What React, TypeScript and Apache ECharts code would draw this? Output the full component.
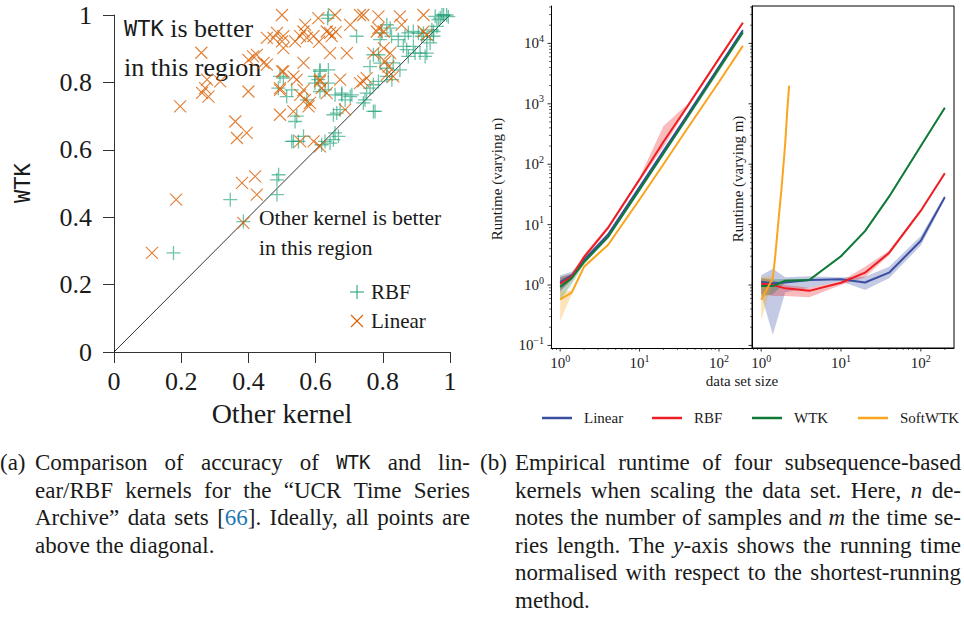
import React, { useEffect, useRef } from 'react';
import * as echarts from 'echarts';

const SERIF = "'Liberation Serif', 'Times New Roman', serif";
const MONO = "'DejaVu Sans Mono', monospace";
const INK = '#1a1a1a';
const BLUE_LINK = '#1f77b4';

// ---------- (a) accuracy scatter ----------
const rbfPoints: [number, number][] = [
  [0.177, 0.294], [0.346, 0.452], [0.385, 0.387], [0.485, 0.511], [0.49, 0.526], [0.485, 0.467],
  [0.529, 0.625], [0.549, 0.625], [0.564, 0.64], [0.539, 0.684], [0.544, 0.7], [0.534, 0.625],
  [0.494, 0.818], [0.489, 0.783], [0.514, 0.758], [0.529, 0.778], [0.574, 0.748], [0.598, 0.818],
  [0.613, 0.837], [0.638, 0.837], [0.598, 0.798], [0.613, 0.773], [0.628, 0.778], [0.638, 0.798],
  [0.658, 0.763], [0.678, 0.768], [0.703, 0.758], [0.653, 0.704], [0.673, 0.719], [0.658, 0.65],
  [0.653, 0.63], [0.628, 0.625], [0.618, 0.615], [0.643, 0.62], [0.668, 0.64], [0.663, 0.709],
  [0.688, 0.748], [0.708, 0.763], [0.678, 0.763], [0.613, 0.833], [0.608, 0.808], [0.504, 0.813],
  [0.638, 1.0], [0.636, 0.99], [0.722, 0.937], [0.742, 0.739], [0.772, 0.714], [0.752, 0.768],
  [0.747, 0.748], [0.777, 0.714], [0.762, 0.783], [0.772, 0.793], [0.787, 0.803], [0.762, 0.847],
  [0.772, 0.882], [0.787, 0.882], [0.792, 0.857], [0.812, 0.818], [0.827, 0.808], [0.812, 0.842],
  [0.831, 0.858], [0.851, 0.837], [0.812, 0.971], [0.822, 0.961], [0.826, 0.937], [0.846, 0.927],
  [0.866, 0.937], [0.876, 0.947], [0.891, 0.951], [0.906, 0.946], [0.891, 0.907], [0.861, 0.907],
  [0.871, 0.897], [0.876, 0.877], [0.896, 0.887], [0.911, 0.887], [0.931, 0.887], [0.926, 0.877],
  [0.951, 0.937], [0.931, 0.927], [0.941, 0.917], [0.961, 0.966], [0.971, 0.991], [0.981, 1.0],
  [0.99, 1.0], [0.995, 0.995], [0.976, 1.0], [0.966, 0.986], [0.956, 0.996], [0.951, 0.951],
  [0.946, 0.956], [0.921, 0.946], [0.916, 0.937], [0.797, 0.947], [0.792, 0.927],
];

const linearPoints: [number, number][] = [
  [0.113, 0.294], [0.185, 0.452], [0.197, 0.729], [0.26, 0.888], [0.277, 0.808], [0.271, 0.783],
  [0.262, 0.769], [0.281, 0.758], [0.316, 0.803], [0.4, 0.773], [0.4, 0.867], [0.414, 0.877],
  [0.455, 0.853], [0.361, 0.684], [0.366, 0.635], [0.395, 0.65], [0.5, 1.0], [0.475, 0.932],
  [0.5, 0.922], [0.504, 0.902], [0.485, 0.947], [0.5, 0.833], [0.494, 0.778], [0.494, 0.704],
  [0.381, 0.502], [0.42, 0.521], [0.425, 0.467], [0.385, 0.383], [0.608, 0.991], [0.658, 1.0],
  [0.732, 1.0], [0.742, 1.0], [0.787, 0.996], [0.851, 0.996], [0.856, 0.971], [0.921, 1.0],
  [0.703, 0.971], [0.787, 0.961], [0.569, 0.971], [0.564, 0.951], [0.554, 0.937], [0.539, 0.922],
  [0.574, 0.932], [0.594, 0.937], [0.633, 0.951], [0.648, 0.937], [0.504, 0.937], [0.643, 0.887],
  [0.693, 0.887], [0.803, 0.951], [0.921, 0.951], [0.931, 0.941], [0.803, 0.902], [0.772, 0.887],
  [0.822, 0.887], [0.564, 0.858], [0.807, 0.862], [0.817, 0.847], [0.831, 0.818], [0.504, 0.833],
  [0.544, 0.808], [0.613, 0.808], [0.673, 0.808], [0.752, 0.813], [0.742, 0.803], [0.554, 0.763],
  [0.569, 0.748], [0.583, 0.739], [0.618, 0.783], [0.633, 0.768], [0.494, 0.783], [0.534, 0.714],
  [0.688, 0.719], [0.554, 0.625], [0.594, 0.625], [0.613, 0.61], [0.732, 0.798], [0.812, 0.823],
  [0.782, 0.951], [0.445, 0.858], [0.425, 0.882], [0.455, 0.932], [0.534, 0.818], [0.579, 0.729],
  [0.613, 0.803], [0.564, 0.778], [0.643, 0.947], [0.61, 0.92], [0.66, 0.95],
];

const diagonal: [number, number][] = [[0, 0], [1, 1]];

// ---------- (b) runtime ----------
const sizes = [1, 1.4, 2, 4, 10, 20, 40, 100, 200];
const softSizesM = [1, 1.4, 1.5, 1.65, 1.8, 2.0, 2.12, 2.24];
const kernelNames = ['Linear', 'RBF', 'WTK', 'SoftWTK'];
const kernelColors = ['#3a4ea2', '#ee1d23', '#0f7a37', '#fba41d'];

// varying n
const nLinear = [1.12, 1.45, 2.6, 6.8, 42, 165, 650, 4100, 16500];
const nLinearLo = [0.8, 1.25, 2.4, 6.3, 39, 152, 610, 3850, 15500];
const nLinearHi = [1.45, 1.65, 2.8, 7.3, 45, 178, 690, 4350, 17500];
const nRBF = [1.05, 1.38, 2.9, 8.8, 56, 235, 900, 5600, 22000];
const nRBFLo = [0.78, 1.2, 2.6, 8.2, 52, 190, 840, 5300, 21000];
const nRBFHi = [1.35, 1.55, 3.2, 9.5, 60, 430, 980, 5900, 23000];
const nWTK = [0.93, 1.3, 2.4, 6.2, 38, 150, 600, 3800, 15200];
const nWTKLo = [0.55, 1.05, 2.2, 5.8, 35, 138, 550, 3400, 14000];
const nWTKHi = [1.35, 1.5, 2.6, 6.6, 41, 162, 650, 4300, 17000];
const nSoft = [0.58, 0.75, 2.0, 4.6, 26, 100, 390, 2300, 9100];
const nSoftLo = [0.25, 0.7, 1.9, 4.4, 25, 97, 378, 2230, 8850];
const nSoftHi = [0.78, 0.8, 2.1, 4.8, 27, 103, 402, 2370, 9350];

// varying m
const mLinear = [1.13, 1.07, 1.1, 1.21, 1.24, 1.1, 1.6, 5.4, 28.5];
const mLinearLo = [0.7, 0.15, 0.75, 0.9, 1.15, 0.83, 1.29, 4.5, 26];
const mLinearHi = [1.45, 1.85, 1.35, 1.4, 1.35, 1.37, 2.0, 6.5, 31];
const mRBF = [1.05, 1.0, 0.88, 0.8, 1.09, 1.6, 3.4, 17, 71];
const mRBFLo = [0.72, 0.66, 0.66, 0.63, 1.0, 1.35, 3.1, 16, 68];
const mRBFHi = [1.3, 1.2, 1.0, 0.9, 1.15, 2.0, 3.7, 18, 74];
const mWTK = [0.96, 0.96, 1.18, 1.21, 3.0, 7.8, 29, 200, 860];
const mWTKLo = [0.65, 0.7, 1.1, 1.15, 2.85, 7.4, 27.5, 190, 820];
const mWTKHi = [1.3, 1.25, 1.26, 1.27, 3.15, 8.2, 30.5, 210, 900];
const mSoft = [0.57, 1.3, 3, 12, 40, 220, 750, 2000];
const mSoftLo = [0.26, 1.2, 2.8, 11.5, 38, 210, 720, 1950];
const mSoftHi = [1.35, 1.4, 3.2, 12.5, 42, 230, 780, 2050];

// axis ranges
const XMIN = Math.pow(10, -0.115);
const XMAX = Math.pow(10, 2.416);
const YMIN = 0.0906;
const YMAX = 41600;
const majorX = [1, 10, 100];
const majorY = [0.1, 1, 10, 100, 1000, 10000];

// captions
const capA = [
  'Comparison of accuracy of {m:WTK} and lin-',
  'ear/RBF kernels for the \u201cUCR Time Series',
  'Archive\u201d data sets [{b:66}]. Ideally, all points are',
  'above the diagonal.',
];
const capB = [
  'Empirical runtime of four subsequence-based',
  'kernels when scaling the data set. Here, {i:n} de-',
  'notes the number of samples and {i:m} the time se-',
  'ries length. The {i:y}-axis shows the running time',
  'normalised with respect to the shortest-running',
  'method.',
];

const PLUS = 'path://M5,0L5,10M0,5L10,5';
const CROSS = 'path://M0,0L10,10M10,0L0,10';

let ctx2d: CanvasRenderingContext2D | null = null;
function measure(t: string, font: string) {
  if (!ctx2d) ctx2d = document.createElement('canvas').getContext('2d');
  ctx2d!.font = font;
  return ctx2d!.measureText(t).width;
}

function fontFor(k: string, size: number) {
  if (k === 'm') return `${Math.round(size * 0.84)}px ${MONO}`;
  if (k === 'i') return `italic ${size}px ${SERIF}`;
  return `${size}px ${SERIF}`;
}

function textEl(x: number, y: number, text: string, font: string, fill = INK, align = 'left', rotation = 0) {
  return {
    type: 'text', x, y, rotation, silent: true, z: 1,
    style: { text, font, fill, textAlign: align, align, textVerticalAlign: 'middle', verticalAlign: 'middle' },
  };
}

type Tok = { t: string; f: string; c: string };
function parseWords(s: string, size: number): Tok[][] {
  return s.split(' ').filter(Boolean).map((w) => {
    const toks: Tok[] = [];
    const re = /\{(\w):([^}]*)\}|[^{]+/g;
    let m: RegExpExecArray | null;
    while ((m = re.exec(w))) {
      if (m[1]) toks.push({ t: m[2], f: fontFor(m[1], size), c: m[1] === 'b' ? BLUE_LINK : INK });
      else toks.push({ t: m[0], f: fontFor('r', size), c: INK });
    }
    return toks;
  });
}

function paragraph(lines: string[], x0: number, width: number, ys: number[], size: number) {
  const els: any[] = [];
  const sp = measure(' ', fontFor('r', size));
  lines.forEach((line, li) => {
    const words = parseWords(line, size);
    const widths = words.map((w) => w.reduce((a, t) => a + measure(t.t, t.f), 0));
    const total = widths.reduce((a, b) => a + b, 0);
    const last = li === lines.length - 1;
    const gap = last || words.length < 2 ? sp : Math.max(sp * 0.6, (width - total) / (words.length - 1));
    let x = x0;
    words.forEach((w, wi) => {
      let xx = x;
      w.forEach((t) => {
        els.push(textEl(xx, ys[li], t.t, t.f, t.c));
        xx += measure(t.t, t.f);
      });
      x += widths[wi] + gap;
    });
  });
  return els;
}

function runLine(x: number, y: number, toks: [string, string][]) {
  const els: any[] = [];
  let xx = x;
  toks.forEach(([t, f]) => {
    els.push(textEl(xx, y, t, f));
    xx += measure(t, f);
  });
  return els;
}

function minorList(lo: number, hi: number) {
  const out: number[] = [];
  for (let k = -2; k <= 5; k++) {
    for (let m = 2; m <= 9; m++) {
      const v = m * Math.pow(10, k);
      if (v >= lo && v <= hi) out.push(v);
    }
  }
  return out;
}

function tickSeries(idx: number, withY: boolean) {
  const minorX = minorList(XMIN, XMAX);
  const minorY = minorList(YMIN, YMAX);
  return {
    type: 'custom', xAxisIndex: idx, yAxisIndex: idx, silent: true, z: 10, clip: false,
    data: [[1, 1]],
    renderItem: (_p: any, api: any) => {
      const ch: any[] = [];
      const ln = (x1: number, y1: number, x2: number, y2: number, w: number) =>
        ch.push({ type: 'line', shape: { x1, y1, x2, y2 }, style: { stroke: '#000', lineWidth: w } });
      const corner = api.coord([XMIN, YMIN]);
      majorX.forEach((v) => { const px = api.coord([v, YMIN])[0]; ln(px, corner[1], px, corner[1] + 3.5, 0.8); });
      minorX.forEach((v) => { const px = api.coord([v, YMIN])[0]; ln(px, corner[1], px, corner[1] + 2, 0.6); });
      if (withY) {
        majorY.forEach((v) => { const py = api.coord([XMIN, v])[1]; ln(corner[0], py, corner[0] - 3.5, py, 0.8); });
        minorY.forEach((v) => { const py = api.coord([XMIN, v])[1]; ln(corner[0], py, corner[0] - 2, py, 0.6); });
      }
      return { type: 'group', children: ch };
    },
  };
}

function bandSeries(idx: number, xs: number[], lo: number[], hi: number[], color: string) {
  return {
    type: 'custom', xAxisIndex: idx, yAxisIndex: idx, silent: true, z: 1, clip: true,
    data: xs.map((x, i) => [x, lo[i], hi[i]]),
    encode: { x: 0, y: [1, 2] },
    renderItem: (p: any, api: any) => {
      if (p.dataIndex !== 0) return { type: 'group', children: [] };
      const up = xs.map((x, i) => api.coord([x, hi[i]]));
      const dn = xs.map((x, i) => api.coord([x, lo[i]])).reverse();
      return { type: 'polygon', shape: { points: up.concat(dn) }, style: { fill: color, opacity: 0.3 } };
    },
  };
}

function lineSeries(idx: number, xs: number[], ys: number[], color: string, name: string) {
  return {
    type: 'line', name, xAxisIndex: idx, yAxisIndex: idx, silent: true, z: 3,
    data: xs.map((x, i) => [x, ys[i]]),
    symbol: 'none', showSymbol: false,
    lineStyle: { color, width: 2 },
    itemStyle: { color },
  };
}

const logLabel = (v: number) => {
  const l = Math.log10(v);
  const e = Math.round(l);
  if (Math.abs(l - e) > 1e-6) return '';
  return `{b|10}{s|${e < 0 ? '\u2212' + -e : e}}`;
};
const logRich = {
  b: { fontFamily: SERIF, fontSize: 15, color: INK, lineHeight: 20 },
  s: { fontFamily: SERIF, fontSize: 10, color: INK, lineHeight: 12, verticalAlign: 'top' },
};

function logX(idx: number) {
  return {
    gridIndex: idx, type: 'log', logBase: 10, min: XMIN, max: XMAX,
    axisLine: { show: true, onZero: false, lineStyle: { color: '#000', width: 1 } },
    axisTick: { show: false }, minorTick: { show: false },
    splitLine: { show: false }, minorSplitLine: { show: false },
    axisLabel: { show: true, formatter: logLabel, rich: logRich, margin: 5, showMinLabel: true, showMaxLabel: true },
  };
}
function logY(idx: number, labels: boolean) {
  return {
    gridIndex: idx, type: 'log', logBase: 10, min: YMIN, max: YMAX,
    axisLine: { show: true, onZero: false, lineStyle: { color: '#000', width: 1 } },
    axisTick: { show: false }, minorTick: { show: false },
    splitLine: { show: false }, minorSplitLine: { show: false },
    axisLabel: { show: labels, formatter: logLabel, rich: logRich, margin: 7 },
  };
}

function buildOption() {
  const green = 'rgba(27,158,119,0.78)';
  const orange = '#d95f02';
  const serifF = (s: number) => `${s}px ${SERIF}`;

  const graphics: any[] = [];
  // scatter annotations
  graphics.push(...runLine(124, 28, [['WTK', `22px ${MONO}`], [' is better', serifF(26)]]));
  graphics.push(textEl(124, 67, 'in this region', serifF(26)));
  graphics.push(textEl(259, 218, 'Other kernel is better', serifF(21.5)));
  graphics.push(textEl(259, 248, 'in this region', serifF(21.5)));
  // scatter axis names
  graphics.push(textEl(282, 413, 'Other kernel', serifF(28), INK, 'center'));
  graphics.push(textEl(22, 183, 'WTK', `22px ${MONO}`, INK, 'center', Math.PI / 2));
  // scatter legend
  const lw = (x1: number, y1: number, x2: number, y2: number, stroke: string, w: number) => ({
    type: 'line', silent: true, shape: { x1, y1, x2, y2 }, style: { stroke, lineWidth: w },
  });
  graphics.push(lw(350, 292, 364, 292, green, 1.3), lw(357, 285, 357, 299, green, 1.3));
  graphics.push(lw(351, 315, 363, 327, orange, 1.1), lw(363, 315, 351, 327, orange, 1.1));
  graphics.push(textEl(371, 292, 'RBF', serifF(21)));
  graphics.push(textEl(371, 321, 'Linear', serifF(21)));
  // runtime axis names
  graphics.push(textEl(497, 179, 'Runtime (varying n)', serifF(15), INK, 'center', Math.PI / 2));
  graphics.push(textEl(738, 179, 'Runtime (varying m)', serifF(15), INK, 'center', Math.PI / 2));
  graphics.push(textEl(742, 381, 'data set size', serifF(15), INK, 'center'));
  // runtime legend
  const legX = [542, 652, 752, 858];
  kernelNames.forEach((nm, i) => {
    graphics.push(lw(legX[i], 418, legX[i] + 30, 418, kernelColors[i], 2.5));
    graphics.push(textEl(legX[i] + 42, 418, nm, serifF(15)));
  });
  // captions
  const capY = [462, 490, 517, 545, 572, 600];
  const CAP = 23;
  graphics.push(textEl(0, capY[0], '(a)', serifF(CAP)));
  graphics.push(textEl(480, capY[0], '(b)', serifF(CAP)));
  graphics.push(...paragraph(capA, 35, 435, capY, CAP));
  graphics.push(...paragraph(capB, 515, 446, capY, CAP));

  const nSets = [
    [nLinear, nLinearLo, nLinearHi], [nRBF, nRBFLo, nRBFHi], [nWTK, nWTKLo, nWTKHi], [nSoft, nSoftLo, nSoftHi],
  ];
  const mSets = [
    [mLinear, mLinearLo, mLinearHi], [mRBF, mRBFLo, mRBFHi], [mWTK, mWTKLo, mWTKHi], [mSoft, mSoftLo, mSoftHi],
  ];

  const series: any[] = [
    {
      type: 'line', xAxisIndex: 0, yAxisIndex: 0, data: diagonal, symbol: 'none', silent: true, z: 1,
      lineStyle: { color: '#000', width: 0.8 },
    },
    {
      type: 'scatter', name: 'RBF', xAxisIndex: 0, yAxisIndex: 0, data: rbfPoints, symbol: PLUS, symbolSize: 14,
      silent: true, z: 3, itemStyle: { color: 'rgba(0,0,0,0)', borderColor: green, borderWidth: 1.3 },
    },
    {
      type: 'scatter', name: 'Linear', xAxisIndex: 0, yAxisIndex: 0, data: linearPoints, symbol: CROSS, symbolSize: 12,
      silent: true, z: 4, itemStyle: { color: 'rgba(0,0,0,0)', borderColor: orange, borderWidth: 1.1 },
    },
  ];
  nSets.forEach((s, i) => series.push(bandSeries(1, sizes, s[1], s[2], kernelColors[i])));
  mSets.forEach((s, i) => series.push(bandSeries(2, i === 3 ? softSizesM : sizes, s[1], s[2], kernelColors[i])));
  nSets.forEach((s, i) => series.push(lineSeries(1, sizes, s[0], kernelColors[i], kernelNames[i])));
  mSets.forEach((s, i) => series.push(lineSeries(2, i === 3 ? softSizesM : sizes, s[0], kernelColors[i], kernelNames[i])));
  series.push(tickSeries(1, true));
  series.push(tickSeries(2, true));

  return {
    animation: false,
    backgroundColor: '#ffffff',
    grid: [
      { left: 114, top: 15, width: 336, height: 337, outerBoundsMode: 'none', containLabel: false },
      { left: 551, top: 6, width: 201, height: 342, outerBoundsMode: 'none', containLabel: false },
      {
        left: 752, top: 6, width: 202, height: 342, outerBoundsMode: 'none', containLabel: false,
        show: true, borderColor: '#000', borderWidth: 1, backgroundColor: 'rgba(0,0,0,0)',
      },
    ],
    xAxis: [
      {
        gridIndex: 0, type: 'value', min: 0, max: 1, interval: 0.2,
        axisLine: { show: true, onZero: false, lineStyle: { color: '#333', width: 1 } },
        axisTick: { show: true, length: 11, inside: false, lineStyle: { color: '#333', width: 1 } },
        axisLabel: { show: true, fontFamily: SERIF, fontSize: 26, color: INK, margin: 16 },
        splitLine: { show: false },
      },
      logX(1),
      logX(2),
    ],
    yAxis: [
      {
        gridIndex: 0, type: 'value', min: 0, max: 1, interval: 0.2,
        axisLine: { show: true, onZero: false, lineStyle: { color: '#333', width: 1 } },
        axisTick: { show: true, length: 11, inside: false, lineStyle: { color: '#333', width: 1 } },
        axisLabel: { show: true, fontFamily: SERIF, fontSize: 26, color: INK, margin: 22 },
        splitLine: { show: false },
      },
      logY(1, true),
      logY(2, false),
    ],
    series,
    graphic: { elements: graphics },
  };
}

export default function App() {
  const ref = useRef<HTMLDivElement>(null);
  useEffect(() => {
    const chart = echarts.init(ref.current!, undefined, { renderer: 'svg', width: 964, height: 623 });
    chart.setOption(buildOption() as any);
    return () => chart.dispose();
  }, []);
  return <div ref={ref} style={{ position: 'absolute', left: 0, top: 0, width: 964, height: 623, background: '#fff' }} />;
}
